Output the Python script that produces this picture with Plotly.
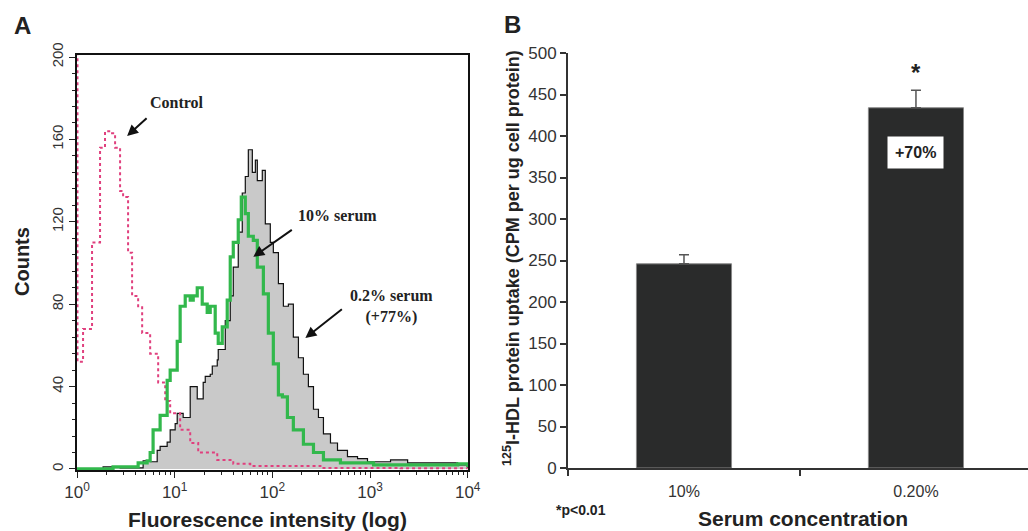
import numpy as np
import plotly.graph_objects as go

# ---------------- Panel A data (log10 fluorescence channel, counts) ----------------
ctrl_log = [0.0, 0.005, 0.062, 0.154, 0.236, 0.287, 0.359, 0.390, 0.441, 0.472, 0.523,
            0.564, 0.626, 0.667, 0.749, 0.831, 0.903, 0.954, 1.056, 1.159, 1.241, 1.436,
            1.600, 1.774, 2.113, 2.492, 3.313, 4.0]
ctrl_cnt = [205, 52, 68, 110, 156, 164, 163, 156, 135, 132, 105,
            84, 79, 66, 56, 42, 33, 27, 19, 12.6, 8, 4.4,
            2.5, 1.5, 1.5, 0.5, 0.3, 0.3]

s10_log = [0.0, 0.369, 0.513, 0.626, 0.718, 0.749, 0.779, 0.851, 0.923, 0.954, 1.026, 1.056,
           1.108, 1.159, 1.190, 1.231, 1.282, 1.333, 1.364, 1.415, 1.446, 1.487, 1.538,
           1.569, 1.600, 1.651, 1.682, 1.723, 1.754, 1.805, 1.846, 1.908, 1.959, 2.010,
           2.062, 2.103, 2.154, 2.215, 2.318, 2.421, 2.523, 2.697, 3.036, 3.385, 3.723,
           3.897, 4.0]
s10_cnt = [0, 1, 1, 3, 4, 8, 19, 26, 43, 48, 62, 79,
           84, 82, 84, 88, 80, 76, 79, 66, 61, 69, 82,
           103, 110, 121, 132, 124, 113, 111, 98, 85, 66, 51,
           36, 35, 25, 19, 12, 8, 4.4, 3, 2, 2, 2,
           2.5, 1]

s02_log = [0.0, 0.267, 0.441, 0.677, 0.749, 0.821, 0.851, 0.923, 0.954, 1.005, 1.026, 1.087,
           1.159, 1.179, 1.231, 1.292, 1.313, 1.364, 1.385, 1.436, 1.446, 1.487, 1.518,
           1.569, 1.600, 1.651, 1.692, 1.723, 1.754, 1.795, 1.826, 1.846, 1.897, 1.928,
           1.979, 2.010, 2.062, 2.113, 2.164, 2.215, 2.267, 2.318, 2.369, 2.421, 2.472,
           2.523, 2.595, 2.667, 2.769, 2.872, 2.974, 3.108, 3.210, 3.385, 3.549, 3.723,
           3.897, 4.0]
s02_cnt = [0, 1, 0.5, 4, 3.5, 9, 11, 13, 19, 22, 27, 25,
           40, 40, 34, 42, 45, 46, 50, 53, 58, 58, 72,
           84, 98, 115, 134, 142, 155, 144, 150, 140, 145, 119,
           110, 105, 90, 79, 80, 64, 54, 46, 40, 29, 25,
           17, 12.6, 9, 6, 5, 3.5, 3.5, 4.4, 3, 3, 3,
           2, 0.5]

x_tick_exp = [0, 1, 2, 3, 4]
y_ticks_a = [0, 40, 80, 120, 160, 200]

# ---------------- Panel B data ----------------
serum = ["10%", "0.20%"]
uptake = [246, 434]
uptake_err = [11, 21]
y_ticks_b = [0, 50, 100, 150, 200, 250, 300, 350, 400, 450, 500]

W, H = 1028, 531
def px(x):
    return x / W
def py(y):
    return (H - y) / H

fig = go.Figure()

fig.add_trace(go.Scatter(
    x=10 ** np.array(s02_log), y=s02_cnt, mode="lines", line_shape="hv",
    line=dict(color="#111111", width=1.2), fill="tozeroy", fillcolor="#c9c9c9",
    xaxis="x", yaxis="y", showlegend=False, hoverinfo="skip"))
fig.add_trace(go.Scatter(
    x=10 ** np.array(ctrl_log), y=ctrl_cnt, mode="lines", line_shape="hv",
    line=dict(color="#e0407e", width=2, dash="dot"),
    xaxis="x", yaxis="y", showlegend=False, hoverinfo="skip"))
fig.add_trace(go.Scatter(
    x=10 ** np.array(s10_log), y=s10_cnt, mode="lines", line_shape="hv",
    line=dict(color="#32b84c", width=3.2),
    xaxis="x", yaxis="y", showlegend=False, hoverinfo="skip"))

fig.add_trace(go.Bar(
    x=serum, y=uptake, width=0.41,
    marker=dict(color="#2a2b2b", line=dict(color="#888888", width=1)),
    error_y=dict(type="data", array=uptake_err, arrayminus=[0, 0], symmetric=False,
                 color="#555555", thickness=1.5, width=5),
    xaxis="x2", yaxis="y2", showlegend=False, hoverinfo="skip"))

minor_x = [k * 10 ** d for d in range(4) for k in range(2, 10)]

fig.update_layout(
    width=W, height=H, margin=dict(l=0, r=0, t=0, b=0, autoexpand=False),
    paper_bgcolor="white", plot_bgcolor="white",
    font=dict(family="Liberation Sans, Arial", color="#222222"),
    xaxis=dict(domain=[px(77), px(468)], type="log", range=[0, 4.003], automargin=False,
               tickmode="array", tickvals=[10 ** e for e in x_tick_exp],
               ticktext=["10<sup>%d</sup>" % e for e in x_tick_exp],
               ticks="outside", ticklen=6, tickwidth=1.2, tickcolor="#222",
               minor=dict(tickvals=minor_x, ticks="outside", ticklen=3, tickcolor="#222"),
               showline=True, linecolor="#111", linewidth=1.5, mirror=True,
               showgrid=False, zeroline=False,
               tickfont=dict(size=17, color="#333")),
    yaxis=dict(domain=[py(470), py(55)], range=[-0.5, 201], automargin=False,
               tickmode="array", tickvals=y_ticks_a, tickangle=-90,
               ticks="outside", ticklen=6, tickwidth=1.2, tickcolor="#222",
               minor=dict(dtick=8, ticks="outside", ticklen=3, tickcolor="#222"),
               showline=True, linecolor="#111", linewidth=1.5, mirror=True,
               showgrid=False, zeroline=False,
               tickfont=dict(size=15, color="#333")),
    xaxis2=dict(domain=[px(568), 1.0], type="category", range=[-0.5, 1.483], automargin=False,
                tickson="boundaries", ticks="outside", ticklen=6, tickwidth=2,
                tickcolor="#333", showline=True, linecolor="#333", linewidth=2,
                showgrid=False, zeroline=False, ticklabelstandoff=8,
                tickfont=dict(size=16, color="#333"), anchor="y2"),
    yaxis2=dict(domain=[py(468), py(53)], range=[0, 500], automargin=False,
                tickmode="array", tickvals=y_ticks_b,
                ticks="outside", ticklen=6, tickwidth=2, tickcolor="#333",
                showline=True, linecolor="#333", linewidth=2,
                showgrid=False, zeroline=False, anchor="x2",
                tickfont=dict(size=17, color="#333")),
)

ann = []
def pa(x, y, text, size, xanchor="center", angle=0, family=None):
    f = dict(size=size, color="#222")
    if family:
        f["family"] = family
    return dict(x=px(x), y=py(y), xref="paper", yref="paper", text=text, showarrow=False,
                xanchor=xanchor, yanchor="middle", textangle=angle, font=f)

# panel letters
ann.append(pa(12, 25, "<b>A</b>", 24, xanchor="left"))
ann.append(pa(502, 24, "<b>B</b>", 24, xanchor="left"))
# axis titles panel A
ann.append(pa(22, 262, "<b>Counts</b>", 20, angle=-90))
ann.append(pa(267, 519, "<b>Fluorescence intensity (log)</b>", 21))
# axis titles panel B
ann.append(pa(511, 258, "<b><sup>125</sup>I-HDL protein uptake (CPM per ug cell protein)</b>",
              18, angle=-90))
ann.append(pa(803, 518, "<b>Serum concentration</b>", 21))
ann.append(pa(581, 510, "<b>*p<0.01</b>", 14))
# panel B in-plot labels
ann.append(dict(x=1, y=477, xref="x2", yref="y2", text="<b>*</b>", showarrow=False,
                font=dict(size=24, color="#222")))
ann.append(dict(x=1, y=380, xref="x2", yref="y2", text="<b>+70%</b>", showarrow=False,
                bgcolor="white", borderpad=7, font=dict(size=16, color="#222")))
# panel A labels with arrows (x in log10 units on log axis)
serif = "Liberation Serif, Times New Roman"
ann.append(dict(x=1.026, y=178, xref="x", yref="y", text="<b>Control</b>", showarrow=False,
                font=dict(family=serif, size=16, color="#222")))
ann.append(dict(x=2.667, y=123, xref="x", yref="y", text="<b>10% serum</b>", showarrow=False,
                font=dict(family=serif, size=16, color="#222")))
ann.append(dict(x=3.22, y=79, xref="x", yref="y", text="<b>0.2% serum<br>(+77%)</b>",
                showarrow=False, font=dict(family=serif, size=16, color="#222")))
for hx, hy, axp, ayp in [(0.513, 161.7, 21, -19), (1.805, 103, 40, -28), (2.338, 63.6, 38, -30)]:
    ann.append(dict(x=hx, y=hy, xref="x", yref="y", text="", showarrow=True,
                    ax=axp, ay=ayp, arrowhead=2, arrowsize=1.1, arrowwidth=2,
                    arrowcolor="#111"))
fig.update_layout(annotations=ann)

fig.write_html("out.html", config={"displayModeBar": False},
               post_script="document.body.style.margin='0';document.body.style.overflow='hidden';")
